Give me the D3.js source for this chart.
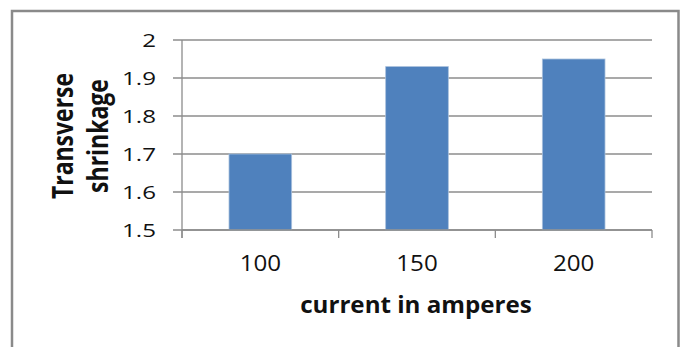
<!DOCTYPE html>
<html>
<head>
<meta charset="utf-8">
<script src="https://cdn.jsdelivr.net/npm/d3@7"></script>
<style>
  html, body { margin: 0; padding: 0; background: #fff; }
  svg { display: block; }
  text { font-family: "Open Sans", sans-serif; fill: #111; }
</style>
</head>
<body>
<script>
// Transverse shrinkage per welding current
const categories = ["100", "150", "200"];
const shrinkage = [1.70, 1.93, 1.95];
const yTicks = [1.5, 1.6, 1.7, 1.8, 1.9, 2.0];
const yTickLabels = ["1.5", "1.6", "1.7", "1.8", "1.9", "2"];
const xTitle = "current in amperes";
const yTitleLines = ["Transverse", "shrinkage"];

const W = 684, H = 347;
const plot = { left: 182, right: 652, top: 40, bottom: 230 };
const stretch = 1.27; // text is drawn wider than its natural proportions

const svg = d3.select("body").append("svg").attr("width", W).attr("height", H);

// outer frame
svg.append("rect")
  .attr("x", 12).attr("y", 11)
  .attr("width", 666.5).attr("height", 360)
  .attr("fill", "none").attr("stroke", "#8a8a8a").attr("stroke-width", 2.5);

const x = d3.scaleBand().domain(categories)
  .range([plot.left, plot.right]).paddingInner(0.6).paddingOuter(0.3);
const y = d3.scaleLinear().domain([1.5, 2]).range([plot.bottom, plot.top]);

// horizontal gridlines
svg.append("g").selectAll("line").data(yTicks).join("line")
  .attr("x1", plot.left - 9).attr("x2", plot.right)
  .attr("y1", d => y(d)).attr("y2", d => y(d))
  .attr("stroke", "#8c8c8c").attr("stroke-width", 1.3);

// bars
svg.append("g").selectAll("rect").data(categories).join("rect")
  .attr("x", d => x(d))
  .attr("y", (d, i) => y(shrinkage[i]))
  .attr("width", x.bandwidth())
  .attr("height", (d, i) => y(1.5) - y(shrinkage[i]))
  .attr("fill", "#4f81bd")
  .attr("stroke", "#a9c0dd").attr("stroke-width", 0.8);

// axes lines and category dividers
const axisColor = "#8c8c8c";
svg.append("line")
  .attr("x1", plot.left).attr("x2", plot.left)
  .attr("y1", plot.top).attr("y2", plot.bottom + 8)
  .attr("stroke", axisColor).attr("stroke-width", 1.3);
svg.append("line")
  .attr("x1", plot.left).attr("x2", plot.right)
  .attr("y1", plot.bottom).attr("y2", plot.bottom)
  .attr("stroke", axisColor).attr("stroke-width", 1.3);
const bounds = d3.range(categories.length + 1).map(i => plot.left + i * (plot.right - plot.left) / categories.length);
svg.append("g").selectAll("line").data(bounds).join("line")
  .attr("x1", d => d).attr("x2", d => d)
  .attr("y1", plot.bottom).attr("y2", plot.bottom + 8)
  .attr("stroke", axisColor).attr("stroke-width", 1.3);

// y tick labels
svg.append("g").selectAll("text").data(yTicks).join("text")
  .attr("transform", d => `translate(156,${y(d)}) scale(${stretch},1)`)
  .attr("text-anchor", "end").attr("dy", "0.36em")
  .attr("font-size", 19)
  .text((d, i) => yTickLabels[i]);

// x tick labels
svg.append("g").selectAll("text").data(categories).join("text")
  .attr("transform", d => `translate(${x(d) + x.bandwidth() / 2},270.5) scale(1.15,1)`)
  .attr("text-anchor", "middle")
  .attr("font-size", 21)
  .text(d => d);

// axis titles
svg.append("text")
  .attr("transform", `translate(416,313) scale(1.05,1)`)
  .attr("text-anchor", "middle")
  .attr("font-size", 23).attr("font-weight", 700)
  .text(xTitle);

const yTitle = svg.append("text")
  .attr("transform", `translate(73,136) scale(${stretch},1) rotate(-90)`)
  .attr("text-anchor", "middle")
  .attr("font-size", 23).attr("font-weight", 700);
yTitle.selectAll("tspan").data(yTitleLines).join("tspan")
  .attr("x", 0).attr("dy", (d, i) => i === 0 ? 0 : 27.5)
  .text(d => d);
</script>
</body>
</html>
